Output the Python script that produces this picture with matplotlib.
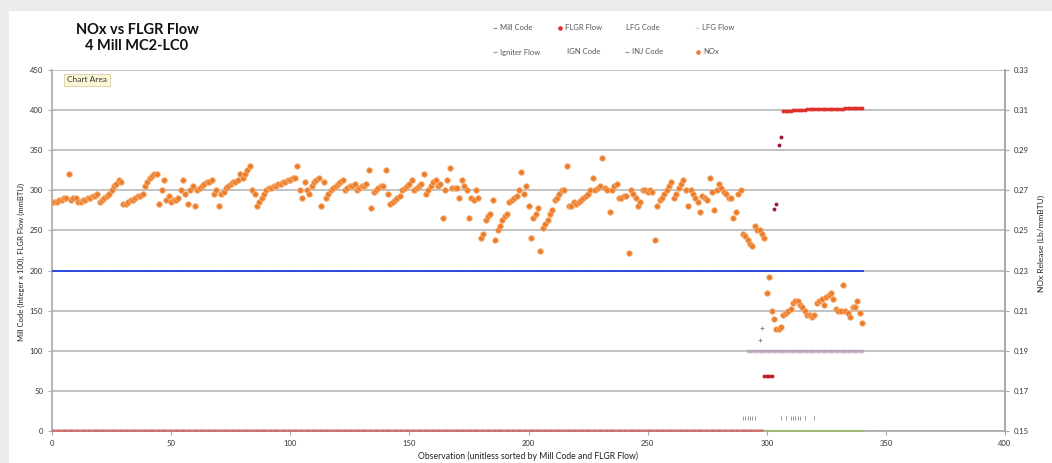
import numpy as np
import matplotlib.pyplot as plt
from matplotlib.lines import Line2D
from matplotlib.patches import Rectangle

# NOx release (Lb/mmBTU), one value per observation
nox = [
    0.264, 0.264, 0.264, 0.265, 0.265, 0.266, 0.266, 0.278, 0.265, 0.266,
    0.266, 0.264, 0.264, 0.265, 0.265, 0.266, 0.266, 0.267, 0.267, 0.268,
    0.264, 0.265, 0.266, 0.267, 0.268, 0.270, 0.272, 0.273, 0.275, 0.274,
    0.263, 0.263, 0.264, 0.265, 0.265, 0.266, 0.267, 0.267, 0.268, 0.272,
    0.274, 0.276, 0.277, 0.278, 0.278, 0.263, 0.270, 0.275, 0.265, 0.267,
    0.264, 0.265, 0.265, 0.266, 0.270, 0.275, 0.268, 0.263, 0.270, 0.272,
    0.262, 0.270, 0.271, 0.272, 0.273, 0.274, 0.274, 0.275, 0.268, 0.270,
    0.262, 0.268, 0.269, 0.271, 0.272, 0.273, 0.274, 0.274, 0.275, 0.278,
    0.276, 0.278, 0.280, 0.282, 0.270, 0.268, 0.262, 0.264, 0.266, 0.268,
    0.270, 0.271, 0.271, 0.272, 0.272, 0.273, 0.273, 0.274, 0.274, 0.275,
    0.275, 0.276, 0.276, 0.282, 0.270, 0.266, 0.274, 0.270, 0.268, 0.272,
    0.274, 0.275, 0.276, 0.262, 0.274, 0.266, 0.268, 0.270, 0.271, 0.272,
    0.273, 0.274, 0.275, 0.270, 0.271, 0.272, 0.272, 0.273, 0.270, 0.271,
    0.272, 0.272, 0.273, 0.280, 0.261, 0.269, 0.270, 0.271, 0.272, 0.272,
    0.280, 0.268, 0.263, 0.264, 0.265, 0.266, 0.267, 0.270, 0.271, 0.272,
    0.273, 0.275, 0.270, 0.271, 0.272, 0.273, 0.278, 0.268, 0.270, 0.272,
    0.274, 0.275, 0.272, 0.273, 0.256, 0.270, 0.275, 0.281, 0.271, 0.271,
    0.271, 0.266, 0.275, 0.272, 0.270, 0.256, 0.266, 0.265, 0.270, 0.266,
    0.246, 0.248, 0.255, 0.257, 0.258, 0.265, 0.245, 0.250, 0.252, 0.255,
    0.257, 0.258, 0.264, 0.265, 0.266, 0.267, 0.270, 0.279, 0.268, 0.272,
    0.262, 0.246, 0.256, 0.258, 0.261, 0.240, 0.251, 0.253, 0.255, 0.258,
    0.260, 0.265, 0.266, 0.268, 0.270, 0.270, 0.282, 0.262, 0.262, 0.264,
    0.263, 0.264, 0.265, 0.266, 0.267, 0.268, 0.270, 0.276, 0.270, 0.271,
    0.272, 0.286, 0.271, 0.270, 0.259, 0.270, 0.272, 0.273, 0.266, 0.266,
    0.267, 0.267, 0.239, 0.270, 0.268, 0.266, 0.262, 0.264, 0.270, 0.270,
    0.269, 0.270, 0.269, 0.245, 0.262, 0.265, 0.266, 0.268, 0.270, 0.272,
    0.274, 0.266, 0.268, 0.271, 0.273, 0.275, 0.270, 0.262, 0.270, 0.268,
    0.266, 0.264, 0.259, 0.267, 0.266, 0.265, 0.276, 0.269, 0.260, 0.270,
    0.273, 0.271, 0.269, 0.268, 0.266, 0.266, 0.256, 0.259, 0.268, 0.270,
    0.248, 0.247, 0.245, 0.243, 0.242, 0.252, 0.250, 0.250, 0.248, 0.246,
    0.219, 0.227, 0.210, 0.206, 0.201, 0.201, 0.202, 0.208, 0.209, 0.210,
    0.211, 0.214, 0.215, 0.215, 0.213, 0.212, 0.210, 0.208, 0.208, 0.207,
    0.208, 0.214, 0.215, 0.216, 0.213, 0.217, 0.218, 0.219, 0.216, 0.211,
    0.210, 0.210, 0.223, 0.210, 0.209, 0.207, 0.212, 0.212, 0.215, 0.209,
    0.204,
]

# mill code (integer x 100), same for every observation
mill_code = [200] * 341

# FLGR flow (mmBTU), sorted
flgr_flow = [0] * 299 + [68, 68, 69, 69, 277, 283, 356, 366] + [
    399, 399, 399, 399, 400, 400, 400, 400, 400, 400,
    401, 401, 401, 401, 401, 401, 401, 401, 402, 402,
    402, 402, 402, 402, 402, 402, 403, 403, 403, 403,
    403, 403, 403, 403,
]

# smaller series only present near the end
lfg_code_start = 292
lfg_code = [100] * 49
lfg_flow_start = 299
lfg_flow = [0] * 42
igniter_obs = [297, 298]
igniter_flow = [113, 129]
ign_obs = [290, 291, 292, 293, 294, 295]
ign_code = [16, 16, 16, 16, 16, 16]
inj_obs = [306, 308, 310, 311, 312, 313, 314, 316, 320]
inj_code = [16, 16, 16, 16, 16, 16, 16, 16, 16]

obs = np.arange(len(nox))

W, H = 1052, 463
fig = plt.figure(figsize=(W / 100, H / 100), dpi=100, facecolor='#ECECEC')
plt.rcParams['font.family'] = ['Lato', 'DejaVu Sans']

def fx(px):
    return px / W

def fy(py):
    return 1 - py / H

# white chart area over grey page
fig.add_artist(Rectangle((fx(9), 0), 1 - fx(9), fy(11), transform=fig.transFigure,
                         facecolor='white', edgecolor='none', zorder=0))

ax = fig.add_axes([fx(52), fy(431), fx(1005) - fx(52), fy(70) - fy(431)])
ax.set_facecolor('none')
ax.set_xlim(0, 400)
ax.set_ylim(0, 450)
ax.set_xticks(range(0, 401, 50))
ax.set_yticks(range(0, 451, 50))
ax.grid(axis='y', color='#BDBDBD', lw=1.3)
ax.set_axisbelow(True)
ax.spines['top'].set_visible(False)
for s in ['left', 'bottom', 'right']:
    ax.spines[s].set_color('#A8A8A8')
    ax.spines[s].set_linewidth(1.2)
ax.tick_params(labelsize=5.5, colors='#A8A8A8', labelcolor='#333333', length=3, width=0.8)

# series on primary axis
ax.plot(obs, mill_code, ls='none', marker='_', ms=2.2, mew=1.3, color='#2848E0', zorder=3)
ax.plot(obs[:299], flgr_flow[:299], ls='none', marker='o', ms=3.6, mew=0, color='#D45A5A',
        alpha=0.45, zorder=3)
ax.plot(obs[299:303], flgr_flow[299:303], ls='none', marker='o', ms=2.8, mew=0, color='#C0202A', zorder=4)
ax.plot(obs[303:307], flgr_flow[303:307], ls='none', marker='o', ms=2.8, mew=0, color='#9E1B32', zorder=4)
ax.plot(obs[307:], flgr_flow[307:], ls='none', marker='o', ms=2.8, mew=0, color='#E0302A', zorder=4)
ax.plot(obs[lfg_code_start:lfg_code_start + len(lfg_code)], lfg_code, ls='none', marker='o',
        ms=2.8, mew=0, color='#B79AB8', alpha=0.6, zorder=3)
ax.plot(obs[lfg_flow_start:lfg_flow_start + len(lfg_flow)], lfg_flow, ls='none', marker='o',
        ms=2.4, mew=0, color='#9DB86A', alpha=0.8, zorder=3)
ax.plot(igniter_obs, igniter_flow, ls='none', marker='+', ms=3, mew=0.6, color='#6A8A9A', zorder=3)
ax.plot(ign_obs, ign_code, ls='none', marker='|', ms=2.5, mew=0.6, color='#888888', zorder=3)
ax.plot(inj_obs, inj_code, ls='none', marker='|', ms=2.5, mew=0.6, color='#888888', zorder=3)

# NOx on secondary axis
ax2 = ax.twinx()
ax2.set_ylim(0.15, 0.33)
ax2.set_yticks(np.arange(0.15, 0.331, 0.02))
ax2.set_yticklabels(['%.2f' % v for v in np.arange(0.15, 0.331, 0.02)])
for s in ['top', 'left', 'bottom']:
    ax2.spines[s].set_visible(False)
ax2.spines['right'].set_color('#A8A8A8')
ax2.spines['right'].set_linewidth(1.2)
ax2.tick_params(labelsize=5.5, colors='#A8A8A8', labelcolor='#333333', length=3, width=0.8)
ax2.scatter(obs, nox, s=16, color='#EC7C2A', edgecolors='#F6B27A', linewidths=0.6, zorder=5)

# labels
fig.text(fx(528), fy(456), 'Observation (unitless sorted by Mill Code and FLGR Flow)',
         fontsize=6.2, ha='center', va='center', color='#222222')
fig.text(fx(21), fy(262), 'Mill Code (Integer x 100), FLGR Flow (mmBTU)', rotation=90,
         fontsize=5.5, ha='center', va='center', color='#222222')
fig.text(fx(1041), fy(243), 'NOx Release (Lb/mmBTU)', rotation=90,
         fontsize=6, ha='center', va='center', color='#222222')
fig.text(fx(137), fy(38), 'NOx vs FLGR Flow\n4 Mill MC2-LC0', fontsize=10.5, fontweight='bold',
         ha='center', va='center', linespacing=1.15, color='#111111')
fig.text(fx(67), fy(80), 'Chart Area', fontsize=6, ha='left', va='center', color='#333333',
         bbox=dict(boxstyle='square,pad=0.35', facecolor='#FBF7D6', edgecolor='#D8D2A0', lw=0.6))

# legend, drawn by hand in two rows
legend_items = [
    (495, 28, 'Mill Code', dict(marker='_', color='#8A8A9A')),
    (560, 28, 'FLGR Flow', dict(marker='o', color='#E0302A')),
    (621, 28, 'LFG Code', None),
    (697, 28, 'LFG Flow', dict(marker='_', color='#C8C8C8')),
    (495, 52, 'Igniter Flow', dict(marker='_', color='#8AA0AA')),
    (562, 52, 'IGN Code', None),
    (627, 52, 'INJ Code', dict(marker='_', color='#999999')),
    (698, 52, 'NOx', dict(marker='o', color='#EC7C2A')),
]
for px, py, label, mk in legend_items:
    if mk is not None:
        fig.add_artist(Line2D([fx(px)], [fy(py)], ls='none', marker=mk['marker'], ms=2.5,
                              mew=0.8, color=mk['color'], transform=fig.transFigure))
    fig.text(fx(px + 5), fy(py), label, fontsize=5.5, ha='left', va='center', color='#555555')

fig.savefig('out.png', dpi=100, facecolor=fig.get_facecolor())
